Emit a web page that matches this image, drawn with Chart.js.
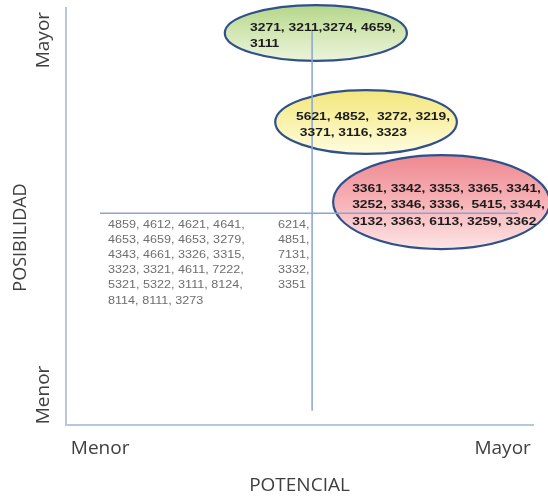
<!DOCTYPE html>
<html><head><meta charset="utf-8">
<script src="https://cdn.jsdelivr.net/npm/chart.js@4.4.1/dist/chart.umd.min.js"></script>
<style>html,body{margin:0;padding:0;background:#fff;} #wrap{width:548px;height:497px;position:relative;}</style>
</head><body><div id="wrap"><canvas id="c"></canvas></div>
<script>
// ---- data ----
const xTickValues = [0.73, 9.35];
const xTickLabels = ['Menor', 'Mayor'];
const yTickValues = [0.72, 9.23];
const yTickLabels = ['Menor', 'Mayor'];
const xAxisTitle = 'POTENCIAL';
const yAxisTitle = 'POSIBILIDAD';

const vDividerX = [5.27, 5.27];
const vDividerY = [0.34, 9.47];
const hDividerX = [0.73, 9.68];
const hDividerY = [5.08, 5.08];

const clusterXMin = [3.40, 4.48, 5.72];
const clusterXMax = [7.30, 8.37, 10.36];
const clusterYMin = [8.73, 6.50, 4.22];
const clusterYMax = [10.07, 8.03, 6.47];
const clusterCodes = [
  ['3271, 3211,3274, 4659,', '3111'],
  ['5621, 4852,  3272, 3219,', ' 3371, 3116, 3323'],
  ['3361, 3342, 3353, 3365, 3341,', '3252, 3346, 3336,  5415, 3344,', '3132, 3363, 6113, 3259, 3362']
];

const groupX = [0.90, 4.54];
const groupY = [4.80, 4.80];
const groupCodes = [
  ['4859, 4612, 4621, 4641,', '4653, 4659, 4653, 3279,', '4343, 4661, 3326, 3315,', '3323, 3321, 4611, 7222,', '5321, 5322, 3111, 8124,', '8114, 8111, 3273'],
  ['6214,', '4851,', '7131,', '3332,', '3351']
];

// ---- styles ----
const clusterFills = [
  ['#b4d68a', '#d3e7b4', '#ebf4dc'],
  ['#f3e67c', '#f9f2ac', '#fffce0'],
  ['#ef8890', '#f6b3b8', '#fde4e6']
];
const clusterBorder = '#30508c';
const dividerColor = '#8ba4cf';
const axisColor = '#b8c6de';
const labelFont = '"Open Sans", sans-serif';
const stretch = 1.26;

const toPts = (xs, ys) => xs.map((x, i) => ({x, y: ys[i]}));

const clusterPlugin = {
  id: 'clusters',
  beforeDatasetsDraw(chart) {
    const {ctx, scales: {x, y}} = chart;
    clusterXMin.forEach((_, i) => {
      const x0 = x.getPixelForValue(clusterXMin[i]), x1 = x.getPixelForValue(clusterXMax[i]);
      const y0 = y.getPixelForValue(clusterYMax[i]), y1 = y.getPixelForValue(clusterYMin[i]);
      const cx = (x0 + x1) / 2, cy = (y0 + y1) / 2, rx = (x1 - x0) / 2, ry = (y1 - y0) / 2;
      ctx.save();
      const g = ctx.createLinearGradient(0, y0, 0, y1);
      g.addColorStop(0, clusterFills[i][0]);
      g.addColorStop(0.5, clusterFills[i][1]);
      g.addColorStop(1, clusterFills[i][2]);
      ctx.beginPath();
      ctx.ellipse(cx, cy, rx, ry, 0, 0, Math.PI * 2);
      ctx.fillStyle = g;
      ctx.fill();
      ctx.lineWidth = 2.2;
      ctx.strokeStyle = clusterBorder;
      ctx.stroke();
      ctx.restore();
    });
  },
  afterDatasetsDraw(chart) {
    const {ctx, scales: {x, y}} = chart;
    // cluster labels
    ctx.save();
    ctx.font = 'bold 11px "Liberation Sans", Arial, sans-serif';
    ctx.fillStyle = '#1c1c1c';
    ctx.textBaseline = 'middle';
    ctx.textAlign = 'left';
    clusterCodes.forEach((lines, i) => {
      const x0 = x.getPixelForValue(clusterXMin[i]), x1 = x.getPixelForValue(clusterXMax[i]);
      const y0 = y.getPixelForValue(clusterYMax[i]), y1 = y.getPixelForValue(clusterYMin[i]);
      const cx = (x0 + x1) / 2, cy = (y0 + y1) / 2;
      const w = Math.max(...lines.map(l => ctx.measureText(l).width)) * stretch;
      const lh = 16.5;
      const top = cy + 3 - (lines.length - 1) * lh / 2;
      lines.forEach((l, k) => {
        ctx.save();
        ctx.translate(cx - w / 2 + 7, top + k * lh);
        ctx.scale(stretch, 1);
        ctx.fillText(l, 0, 0);
        ctx.restore();
      });
    });
    ctx.restore();
    // group labels
    ctx.save();
    ctx.font = '10px "Liberation Sans", Arial, sans-serif';
    ctx.fillStyle = '#6e6e6e';
    ctx.textBaseline = 'middle';
    ctx.textAlign = 'left';
    groupCodes.forEach((lines, i) => {
      const px = x.getPixelForValue(groupX[i]), py = y.getPixelForValue(groupY[i]);
      lines.forEach((l, k) => {
        ctx.save();
        ctx.translate(px, py + k * 15.2);
        ctx.scale(stretch, 1);
        ctx.fillText(l, 0, 0);
        ctx.restore();
      });
    });
    ctx.restore();
  },
  afterDraw(chart) {
    const {ctx, scales: {y}} = chart;
    ctx.save();
    ctx.fillStyle = '#404040';
    ctx.textAlign = 'center';
    ctx.textBaseline = 'middle';
    ctx.font = '19px ' + labelFont;
    yTickValues.forEach((v, i) => {
      ctx.save();
      ctx.translate(y.left + 44, y.getPixelForValue(v));
      ctx.rotate(-Math.PI / 2);
      ctx.fillText(yTickLabels[i], 0, 0);
      ctx.restore();
    });
    ctx.font = '18px ' + labelFont;
    ctx.translate(y.left + 21, (y.top + y.bottom) / 2 + 21);
    ctx.rotate(-Math.PI / 2);
    ctx.fillText(yAxisTitle, 0, 0);
    ctx.restore();
  }
};

new Chart(document.getElementById('c'), {
  type: 'scatter',
  data: {
    datasets: [
      { data: toPts(vDividerX, vDividerY), showLine: true, borderColor: dividerColor, borderWidth: 1.5, pointRadius: 0 },
      { data: toPts(hDividerX, hDividerY), showLine: true, borderColor: dividerColor, borderWidth: 1.5, pointRadius: 0 }
    ]
  },
  options: {
    responsive: true,
    maintainAspectRatio: false,
    animation: false,
    layout: { padding: { top: 8, right: 15, left: 0, bottom: 0 } },
    plugins: { legend: { display: false }, tooltip: { enabled: false } },
    scales: {
      x: {
        type: 'linear', min: 0, max: 10,
        grid: { display: false },
        border: { display: true, color: axisColor, width: 2 },
        afterBuildTicks: s => { s.ticks = xTickValues.map(v => ({ value: v })); },
        afterFit: s => { s.height = 72; },
        ticks: {
          padding: 4, color: '#404040', autoSkip: false, maxRotation: 0,
          font: { family: labelFont, size: 19 },
          callback: (v, i) => xTickLabels[i]
        },
        title: { display: true, text: xAxisTitle, color: '#404040', padding: { top: 0, bottom: 0 }, font: { family: labelFont, size: 19 } }
      },
      y: {
        type: 'linear', min: 0, max: 10,
        grid: { display: false },
        border: { display: true, color: axisColor, width: 2 },
        afterBuildTicks: s => { s.ticks = yTickValues.map(v => ({ value: v })); },
        afterFit: s => { s.width = 66; },
        ticks: { display: false }
      }
    }
  },
  plugins: [clusterPlugin]
});
</script>
</body></html>
